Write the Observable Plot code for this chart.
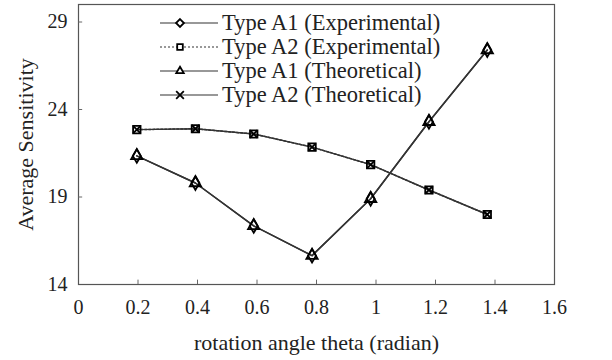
<!DOCTYPE html>
<html>
<head>
<meta charset="utf-8">
<script src="https://cdn.jsdelivr.net/npm/d3@7"></script>
<script src="https://cdn.jsdelivr.net/npm/@observablehq/plot@0.6"></script>
<style>
  html, body { margin: 0; padding: 0; background: #fff; }
  #wrap { position: relative; width: 612px; height: 360px; font-family: "Liberation Serif", "Times New Roman", serif; }
  #legend { position: absolute; left: 160px; top: 11px; }
  .row { display: flex; align-items: center; height: 24px; font-size: 22.5px; color: #222; white-space: nowrap; }
  .row svg { display: block; margin-right: 2px; }
</style>
</head>
<body>
<div id="wrap"><div id="chart"></div><div id="legend"></div></div>
<script>
const theta = [0.196, 0.393, 0.589, 0.785, 0.982, 1.178, 1.374];
const a1Experimental = [21.35, 19.8, 17.35, 15.65, 18.9, 23.3, 27.4];
const a2Experimental = [22.85, 22.9, 22.6, 21.85, 20.85, 19.4, 18.0];
const a1Theoretical = [21.35, 19.8, 17.35, 15.65, 18.9, 23.3, 27.4];
const a2Theoretical = [22.85, 22.9, 22.6, 21.85, 20.85, 19.4, 18.0];
const seriesNames = ["Type A1 (Experimental)", "Type A2 (Experimental)", "Type A1 (Theoretical)", "Type A2 (Theoretical)"];
const xTicks = [0, 0.2, 0.4, 0.6, 0.8, 1, 1.2, 1.4, 1.6];
const yTicks = [14, 19, 24, 29];

const symbols = ["diamond", "square", "triangle", "times"];
const dashes = [null, "2,2", null, null];
const allValues = [a1Experimental, a2Experimental, a1Theoretical, a2Theoretical];
const data = [];
allValues.forEach((vals, i) => vals.forEach((v, j) => data.push({series: seriesNames[i], x: theta[j], y: v, idx: i})));

const marks = [
  Plot.frame({stroke: "#555", strokeWidth: 1.2}),
  Plot.ruleX(xTicks.slice(1, -1), {y1: 14, y2: 14.25, stroke: "#666"}),
  Plot.ruleY(yTicks.slice(1), {x1: 0, x2: 0.014, stroke: "#666"}),
  Plot.axisX({ticks: xTicks, tickSize: 0, tickPadding: 15, tickFormat: d => String(d), fontSize: 20, label: null}),
  Plot.axisY({ticks: yTicks, tickSize: 0, tickPadding: 11, fontSize: 20, label: null}),
];
allValues.forEach((vals, i) => {
  const d = data.filter(p => p.idx === i);
  marks.push(Plot.line(d, {x: "x", y: "y", stroke: "#333", strokeWidth: 1.5, strokeDasharray: dashes[i] || undefined}));
});
allValues.forEach((vals, i) => {
  const d = data.filter(p => p.idx === i);
  marks.push(Plot.dot(d, {x: "x", y: "y", symbol: () => symbols[i], r: symbols[i] === "times" ? 3.5 : 4.2, stroke: "#000", strokeWidth: 1.8, fill: "none"}));
});
marks.push(Plot.text(["rotation angle theta (radian)"], {frameAnchor: "bottom", lineAnchor: "middle", textAnchor: "middle", dy: 58, fontSize: 22, fill: "#222"}));
marks.push(Plot.text(["Average Sensitivity"], {frameAnchor: "left", lineAnchor: "middle", textAnchor: "middle", dx: -53, rotate: -90, fontSize: 22, fill: "#222"}));

const chart = Plot.plot({
  width: 612,
  height: 360,
  marginLeft: 78,
  marginRight: 58,
  marginTop: 4,
  marginBottom: 76,
  style: {fontFamily: "'Liberation Serif', 'Times New Roman', serif", color: "#222", background: "#fff", overflow: "visible"},
  x: {domain: [0, 1.6]},
  y: {domain: [14, 30]},
  symbol: {domain: symbols, range: symbols},
  marks
});
document.getElementById("chart").appendChild(chart);

const legend = d3.select("#legend");
const symGen = {diamond: d3.symbolDiamond2, square: d3.symbolSquare2, triangle: d3.symbolTriangle2, times: d3.symbolTimes};
seriesNames.forEach((name, i) => {
  const row = legend.append("div").attr("class", "row");
  const svg = row.append("svg").attr("width", 60).attr("height", 20);
  svg.append("line").attr("x1", 0).attr("x2", 58).attr("y1", 10).attr("y2", 10)
    .attr("stroke", "#333").attr("stroke-width", 1.2).attr("stroke-dasharray", dashes[i]);
  svg.append("path").attr("transform", "translate(20,10)")
    .attr("d", d3.symbol(symGen[symbols[i]], 40)())
    .attr("fill", "#fff").attr("stroke", "#000").attr("stroke-width", 1.8);
  row.append("span").text(name);
});
</script>
</body>
</html>
